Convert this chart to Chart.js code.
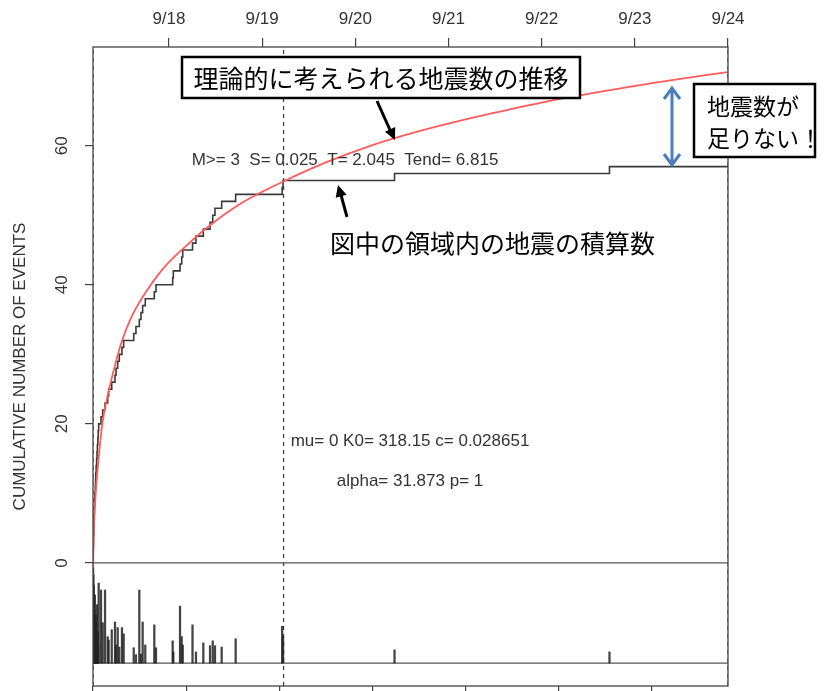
<!DOCTYPE html>
<html lang="ja">
<head>
<meta charset="UTF-8">
<title>Cumulative number of events</title>
<style>
  body { margin: 0; background: #fff; }
  #wrap { width: 827px; height: 691px; }
</style>
</head>
<body>
<div id="wrap"><canvas id="etasChart" width="827" height="691"></canvas></div>

<script src="https://cdn.jsdelivr.net/npm/chart.js@4.4.1/dist/chart.umd.min.js"></script>
<script>
  // event times, days since start of the window
  const eventDays = [
    0.001, 0.002, 0.004, 0.005, 0.008, 0.010, 0.012, 0.014, 0.017, 0.020,
    0.024, 0.027, 0.030, 0.034, 0.039, 0.043, 0.047, 0.052, 0.056,
    0.061, 0.086, 0.104, 0.129, 0.158, 0.168, 0.201, 0.236, 0.247, 0.265,
    0.282, 0.311, 0.329,
    0.437, 0.461, 0.497, 0.515, 0.533, 0.561, 0.658, 0.676,
    0.855, 0.862, 0.934, 0.952, 0.963, 1.068, 1.105, 1.184, 1.256, 1.285,
    1.309, 1.381, 1.531,
    2.030, 2.040, 3.236, 5.543
  ];
  // top of each magnitude bar (y units, bars stand on barBase)
  const barTops = [
    -0.7, -5.3, -1.7, -11.1, -3.2, -8.2, -12.5, -6.8, -9.6, -4.6,
    -11.8, -8.9, -12.2, -7.5, -11.1, -6.0, -12.5, -9.9, -11.8,
    -2.9, -3.9, -8.6, -3.9, -10.6, -11.1, -9.6, -8.5, -11.8, -9.3,
    -12.1, -9.3, -10.2,
    -12.2, -13.2, -3.9, -13.1, -8.5, -11.8, -8.9, -12.2,
    -11.2, -12.8, -6.2, -10.6, -11.8, -8.9, -12.8, -11.5, -11.9, -11.2,
    -11.9, -12.1, -10.9,
    -9.1, -10.6, -12.5, -12.8
  ];
  const barBase = -14.4;

  // theoretical (model) cumulative curve
  const modelDays = [0, 0.005, 0.01, 0.02, 0.04, 0.06, 0.1, 0.15, 0.2, 0.3, 0.4, 0.55, 0.75,
                     1.0, 1.25, 1.6, 2.05, 2.5, 3.0, 3.5, 4.0, 4.5, 5.0, 5.5, 6.0, 6.5, 6.815];
  const modelCounts = [-0.6, 2.5, 5, 8, 12, 15, 20, 23.6, 26.5, 31.5, 35, 38.6, 42.3,
                       45.6, 48.5, 51.8, 54.9, 57.6, 60.1, 62.1, 63.8, 65.3, 66.7, 67.9, 69.0, 70.0, 70.6];

  const topTickDays = [0.815, 1.815, 2.815, 3.815, 4.815, 5.815, 6.815];
  const topTickLabels = ['9/18', '9/19', '9/20', '9/21', '9/22', '9/23', '9/24'];
  const bottomTickDays = [0, 1, 2, 3, 4, 5, 6];
  const yTickValues = [0, 20, 40, 60];
  const markerDays = [0, 2.045, 6.815];   // start, T, Tend
  const tEnd = 6.815;
  const yMin = -17.7, yMax = 74.2;

  const rFont = "'Liberation Sans', Arial, sans-serif";
  const jpFont = "'Noto Sans CJK JP', sans-serif";

  const stepData = [{x: 0, y: 0}];
  eventDays.forEach((d, i) => stepData.push({x: d, y: i + 1}));
  stepData.push({x: tEnd, y: eventDays.length});

  const datasets = [
    {
      type: 'line', label: 'observed', data: stepData, stepped: 'before',
      borderColor: '#3a3a3a', borderWidth: 1.6, pointRadius: 0, order: 2
    },
    {
      type: 'line', label: 'model', data: modelDays.map((d, i) => ({x: d, y: modelCounts[i]})),
      borderColor: '#ff5b5b', borderWidth: 1.8, pointRadius: 0, cubicInterpolationMode: 'monotone', order: 1
    },
    {
      type: 'bar', label: 'mag', data: eventDays.map((d, i) => ({x: d, y: [barBase, barTops[i]]})),
      backgroundColor: 'rgba(35,35,35,0.85)', barThickness: 1.6, grouped: false, order: 3
    },
    {
      type: 'line', data: [{x: 0, y: 0}, {x: tEnd, y: 0}],
      borderColor: '#555', borderWidth: 1.2, pointRadius: 0, order: 4
    },
    {
      type: 'line', data: [{x: 0, y: barBase}, {x: tEnd, y: barBase}],
      borderColor: '#555', borderWidth: 1.2, pointRadius: 0, order: 4
    }
  ];
  markerDays.forEach(m => datasets.push({
    type: 'line', data: [{x: m, y: yMin}, {x: m, y: yMax}],
    borderColor: '#444', borderWidth: 1.3, borderDash: [4, 4], pointRadius: 0, order: 5
  }));

  function arrowHead(ctx, x0, y0, x1, y1, size) {
    const a = Math.atan2(y1 - y0, x1 - x0);
    ctx.beginPath();
    ctx.moveTo(x1, y1);
    ctx.lineTo(x1 - size * Math.cos(a - 0.45), y1 - size * Math.sin(a - 0.45));
    ctx.lineTo(x1 - size * Math.cos(a + 0.45), y1 - size * Math.sin(a + 0.45));
    ctx.closePath();
    ctx.fill();
  }

  const decorations = {
    id: 'decorations',
    afterDraw(chart) {
      const ctx = chart.ctx;
      const area = chart.chartArea;
      const ys = chart.scales.y;
      ctx.save();

      // frame
      ctx.strokeStyle = '#444';
      ctx.lineWidth = 1.3;
      ctx.strokeRect(area.left, area.top, area.right - area.left, area.bottom - area.top);

      // rotated y tick labels
      ctx.fillStyle = '#333';
      ctx.font = '17px ' + rFont;
      ctx.textAlign = 'center';
      ctx.textBaseline = 'middle';
      yTickValues.forEach(v => {
        ctx.save();
        ctx.translate(62, ys.getPixelForValue(v));
        ctx.rotate(-Math.PI / 2);
        ctx.fillText(String(v), 0, 0);
        ctx.restore();
      });

      // R text labels
      ctx.fillText('M>= 3  S= 0.025  T= 2.045  Tend= 6.815', 345, 160);
      ctx.fillText('mu= 0 K0= 318.15 c= 0.028651', 410, 441);
      ctx.fillText('alpha= 31.873 p= 1', 410, 481);

      // callout boxes
      ctx.fillStyle = '#000';
      ctx.strokeStyle = '#000';
      ctx.lineWidth = 2.5;
      ctx.fillStyle = '#fff';
      ctx.fillRect(182, 57, 398, 41);
      ctx.strokeRect(182, 57, 398, 41);
      ctx.fillRect(694, 84, 121, 73);
      ctx.strokeRect(694, 84, 121, 73);

      ctx.fillStyle = '#000';
      ctx.font = '25px ' + jpFont;
      ctx.textAlign = 'center';
      ctx.fillText('理論的に考えられる地震数の推移', 381, 78);
      ctx.textAlign = 'left';
      ctx.fillText('図中の領域内の地震の積算数', 330, 243);
      ctx.font = '23px ' + jpFont;
      ctx.fillText('地震数が', 707, 106);
      ctx.fillText('足りない！', 707, 138);

      // black arrows
      ctx.lineWidth = 3;
      ctx.beginPath(); ctx.moveTo(377, 101); ctx.lineTo(390, 130); ctx.stroke();
      arrowHead(ctx, 377, 101, 395, 140, 13);
      ctx.beginPath(); ctx.moveTo(347, 217); ctx.lineTo(341, 195); ctx.stroke();
      arrowHead(ctx, 347, 217, 338, 185, 13);

      // blue double arrow
      ctx.strokeStyle = '#4a7ebe';
      ctx.lineWidth = 3;
      ctx.beginPath();
      ctx.moveTo(672, 88); ctx.lineTo(672, 165);
      ctx.moveTo(664, 99); ctx.lineTo(672, 88); ctx.lineTo(680, 99);
      ctx.moveTo(664, 154); ctx.lineTo(672, 165); ctx.lineTo(680, 154);
      ctx.stroke();

      ctx.restore();
    }
  };

  new Chart(document.getElementById('etasChart'), {
    type: 'line',
    data: { datasets: datasets },
    options: {
      responsive: false,
      animation: false,
      parsing: true,
      layout: { padding: { left: 0, right: 99, top: 0, bottom: 0 } },
      plugins: { legend: { display: false }, tooltip: { enabled: false } },
      scales: {
        x: {
          type: 'linear', position: 'bottom', min: 0, max: tEnd, offset: false,
          afterBuildTicks: s => { s.ticks = bottomTickDays.map(v => ({value: v})); },
          afterFit: s => { s.height = 5; },
          ticks: { display: false },
          grid: { drawOnChartArea: false, offset: false, tickLength: 8, color: '#444', lineWidth: 1.2 },
          border: { display: false }
        },
        xTop: {
          type: 'linear', position: 'top', min: 0, max: tEnd, offset: false,
          afterBuildTicks: s => { s.ticks = topTickDays.map(v => ({value: v})); },
          afterFit: s => { s.height = 47; },
          ticks: {
            color: '#333', padding: 8, maxRotation: 0,
            font: { family: rFont, size: 17 },
            callback: (v, i) => topTickLabels[i]
          },
          grid: { drawOnChartArea: false, offset: false, tickLength: 9, color: '#444', lineWidth: 1.2 },
          border: { display: false }
        },
        y: {
          type: 'linear', position: 'left', min: yMin, max: yMax,
          afterBuildTicks: s => { s.ticks = yTickValues.map(v => ({value: v})); },
          afterFit: s => { s.width = 93; },
          ticks: { display: false },
          grid: { drawOnChartArea: false, tickLength: 8, color: '#444', lineWidth: 1.2 },
          border: { display: false },
          title: {
            display: true, text: 'CUMULATIVE NUMBER OF EVENTS', color: '#333',
            font: { family: rFont, size: 17 }, padding: { top: 10, bottom: 0 }
          }
        }
      }
    },
    plugins: [decorations]
  });
</script>
</body>
</html>
